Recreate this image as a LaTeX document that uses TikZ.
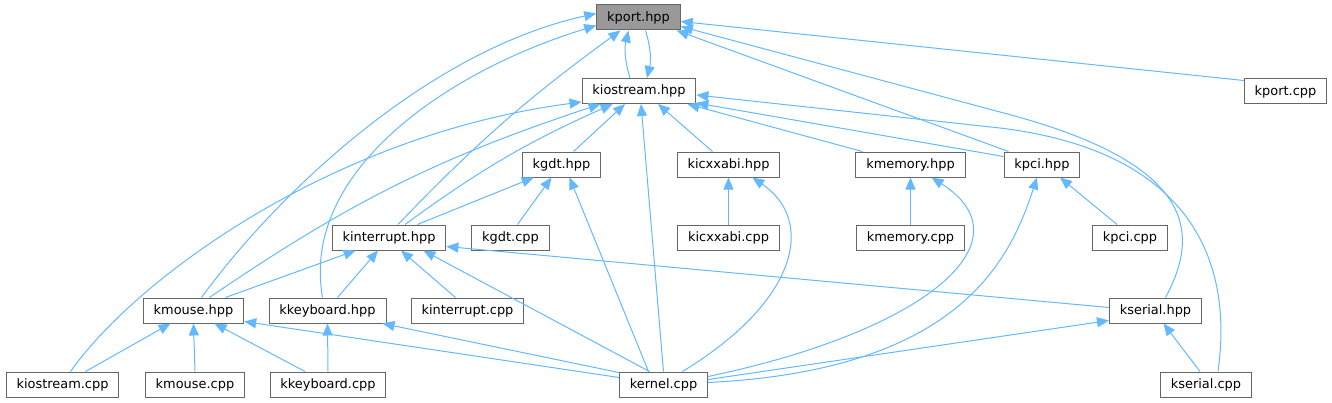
\documentclass[tikz,border=0pt]{standalone}
\usepackage{fontspec}
\setmainfont{DejaVu Sans}
\usetikzlibrary{arrows.meta,calc}

\definecolor{edgeblue}{HTML}{63B8FF}
\definecolor{bordergray}{HTML}{666666}
\definecolor{mainfill}{HTML}{999999}

\begin{document}
\begin{tikzpicture}[
    x=0.75pt, y=-0.75pt,
    file/.style={draw=bordergray, line width=0.75pt, fill=white, minimum height=18.75pt, inner xsep=7.8pt, inner ysep=0pt, font=\fontsize{9.7}{11}\selectfont},
    main/.style={file, fill=mainfill},
    arrow/.style={-{Triangle[length=9pt,width=7.5pt]}, draw=edgeblue, line width=0.75pt}
  ]
    \useasboundingbox (0,0) rectangle (1332,403);

    % headers and sources, row by row
    \node[main] (kporth) at (638.5,17.5) {kport.hpp};
    \node[file] (kiostreamh) at (639,91) {kiostream.hpp};
    \node[file] (kportc) at (1285.5,91.5) {kport.cpp};
    \node[file] (kgdth) at (561.5,164.5) {kgdt.hpp};
    \node[file] (kicxxabih) at (728.5,164.5) {kicxxabi.hpp};
    \node[file] (kmemoryh) at (910.5,164.5) {kmemory.hpp};
    \node[file] (kpcih) at (1042,164.5) {kpci.hpp};
    \node[file] (kinterrupth) at (389,237.5) {kinterrupt.hpp};
    \node[file] (kgdtc) at (510.5,237.5) {kgdt.cpp};
    \node[file] (kicxxabic) at (728.5,237.5) {kicxxabi.cpp};
    \node[file] (kmemoryc) at (910.5,237.5) {kmemory.cpp};
    \node[file] (kpcic) at (1130,237.5) {kpci.cpp};
    \node[file] (kmouseh) at (193.5,310.5) {kmouse.hpp};
    \node[file] (kkeyboardh) at (327.5,310.5) {kkeyboard.hpp};
    \node[file] (kinterruptc) at (467.5,310.5) {kinterrupt.cpp};
    \node[file] (kserialh) at (1155.5,310.5) {kserial.hpp};
    \node[file] (kiostreamc) at (62.5,384.5) {kiostream.cpp};
    \node[file] (kmousec) at (195,384.5) {kmouse.cpp};
    \node[file] (kkeyboardc) at (328,384.5) {kkeyboard.cpp};
    \node[file] (kernelc) at (663.5,384.5) {kernel.cpp};
    \node[file] (kserialc) at (1206,384.5) {kserial.cpp};

    % includes of kport.hpp
    \draw[arrow] ($(kiostreamh.north)+(-9,0)$) to[bend left=15] ($(kporth.south)+(-10,0)$);
    \draw[arrow] ($(kporth.south)+(7,0)$) to[bend left=15] ($(kiostreamh.north)+(8,0)$);
    \draw[arrow] ($(kportc.north west)+(0,2)$) -- ($(kporth.east)+(0,4)$);
    \draw[arrow] ($(kpcih.north west)+(5,0)$) -- ($(kporth.south east)+(-4,0)$);
    \draw[arrow] ($(kserialh.north)+(10,0)$) .. controls (1205,225) and (1185,160) .. (1000,112) -- ($(kporth.east)+(0,9)$);
    \draw[arrow] ($(kmouseh.north)+(8,0)$) .. controls (280,190) and (430,50) .. ($(kporth.west)+(0,-4)$);
    \draw[arrow] ($(kkeyboardh.north)+(-5,0)$) .. controls (300,170) and (450,70) .. ($(kporth.west)+(0,8)$);
    \draw[arrow] ($(kinterrupth.north)+(9,0)$) to[bend left=5] ($(kporth.south)+(-18,0)$);

    % includes of kiostream.hpp
    \draw[arrow] ($(kiostreamc.north)+(8,0)$) .. controls (135,280) and (330,135) .. ($(kiostreamh.south west)+(0,-2)$);
    \draw[arrow] ($(kmouseh.north)+(16,0)$) to[bend left=8] ($(kiostreamh.south west)+(19,0)$);
    \draw[arrow] ($(kinterrupth.north)+(16,0)$) to[bend left=6] ($(kiostreamh.south west)+(31,0)$);
    \draw[arrow] ($(kgdth.north)+(12,0)$) -- ($(kiostreamh.south)+(-14,0)$);
    \draw[arrow] ($(kicxxabih.north)+(-16,0)$) -- ($(kiostreamh.south)+(19,0)$);
    \draw[arrow] ($(kmemoryh.north west)+(7,0)$) -- ($(kiostreamh.south east)+(-9,0)$);
    \draw[arrow] ($(kpcih.north west)+(0,5)$) -- ($(kiostreamh.south east)+(0,-1)$);
    \draw[arrow] (kernelc.north) -- ($(kiostreamh.south)+(2,0)$);
    \draw[arrow] ($(kserialc.north)+(12,0)$) .. controls (1235,250) and (1180,150) .. (1000,128) -- ($(kiostreamh.east)+(0,4)$);

    % includes of kgdt.hpp, kicxxabi.hpp, kmemory.hpp, kpci.hpp
    \draw[arrow] ($(kinterrupth.north east)+(-29,0)$) -- ($(kgdth.south west)+(12,0)$);
    \draw[arrow] ($(kgdtc.north)+(7,0)$) -- ($(kgdth.south)+(-10,0)$);
    \draw[arrow] ($(kernelc.north)+(-15,0)$) -- ($(kgdth.south)+(8,0)$);
    \draw[arrow] (kicxxabic.north) -- (kicxxabih.south);
    \draw[arrow] ($(kernelc.north)+(19,0)$) .. controls (800,300) and (815,220) .. ($(kicxxabih.south east)+(-28,0)$);
    \draw[arrow] (kmemoryc.north) -- (kmemoryh.south);
    \draw[arrow] ($(kernelc.east)+(0,-8)$) .. controls (930,330) and (1030,240) .. ($(kmemoryh.south east)+(-34,0)$);
    \draw[arrow] ($(kpcic.north)+(-13,0)$) -- ($(kpcih.south)+(18,0)$);
    \draw[arrow] ($(kernelc.east)+(0,-2)$) .. controls (960,370) and (1010,260) .. ($(kpcih.south)+(-5,0)$);

    % includes of kinterrupt.hpp
    \draw[arrow] ($(kmouseh.north)+(32,0)$) -- ($(kinterrupth.south west)+(24,0)$);
    \draw[arrow] ($(kkeyboardh.north)+(10,0)$) -- ($(kinterrupth.south)+(-11,0)$);
    \draw[arrow] ($(kinterruptc.north)+(-12,0)$) -- ($(kinterrupth.south)+(12,0)$);
    \draw[arrow] ($(kernelc.north)+(-14,0)$) -- ($(kinterrupth.south east)+(-23,0)$);
    \draw[arrow] ($(kserialh.west)+(0,-3)$) -- ($(kinterrupth.south east)+(0,-4)$);

    % includes of kmouse.hpp, kkeyboard.hpp, kserial.hpp
    \draw[arrow] ($(kiostreamc.north)+(23,0)$) -- ($(kmouseh.south)+(-23,0)$);
    \draw[arrow] (kmousec.north) -- (kmouseh.south);
    \draw[arrow] ($(kkeyboardc.north)+(-23,0)$) -- ($(kmouseh.south)+(21,0)$);
    \draw[arrow] ($(kernelc.west)+(0,-7)$) -- ($(kmouseh.south east)+(0,-2)$);
    \draw[arrow] (kkeyboardc.north) -- (kkeyboardh.south);
    \draw[arrow] ($(kernelc.north west)+(0,1)$) -- ($(kkeyboardh.south east)+(-4,0)$);
    \draw[arrow] ($(kernelc.east)+(0,-5)$) -- ($(kserialh.south west)+(0,-3)$);
    \draw[arrow] ($(kserialc.north)+(-6,0)$) -- ($(kserialh.south)+(8,0)$);
\end{tikzpicture}
\end{document}
